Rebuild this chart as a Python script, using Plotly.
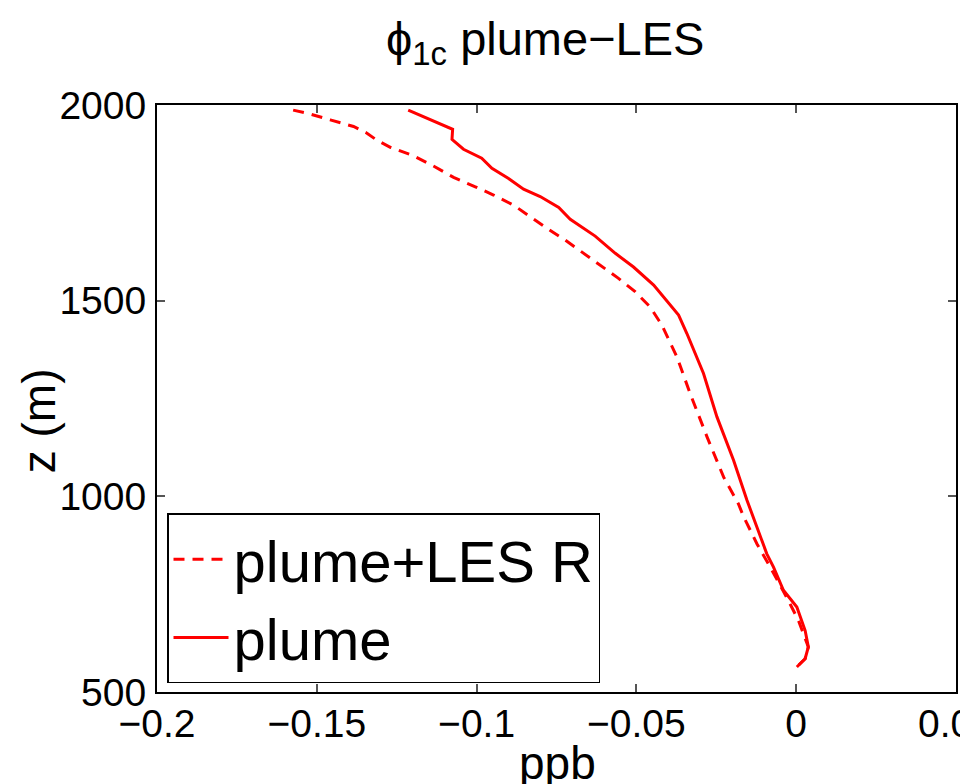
import plotly.graph_objects as go

# plume+LES R (dashed)
les_x = [-0.1574, -0.1521, -0.1458, -0.1385, -0.1343, -0.1312, -0.1270, -0.1197, -0.1135,
         -0.1072, -0.1004, -0.0947, -0.0884, -0.0832, -0.0780, -0.0723, -0.0665, -0.0613,
         -0.0556, -0.0504, -0.0457, -0.0420, -0.0389, -0.0373, -0.0332, -0.0279, -0.0227,
         -0.0181, -0.0164, -0.0123, -0.0081, -0.0047, -0.0019, 0.0007, 0.0023, 0.0038,
         0.0028, 0.0002]
les_z = [1987, 1977, 1962, 1945, 1928, 1910, 1892, 1870, 1844,
         1815, 1791, 1770, 1744, 1714, 1685, 1655, 1621, 1591,
         1557, 1523, 1484, 1437, 1382, 1356, 1263, 1152, 1049,
         981, 947, 879, 819, 768, 725, 683, 649, 615,
         585, 564]

# plume (solid)
plume_x = [-0.1214, -0.1089, -0.1075, -0.1077, -0.1041, -0.0984, -0.0952, -0.0900, -0.0853,
           -0.0801, -0.0743, -0.0707, -0.0629, -0.0566, -0.0509, -0.0446, -0.0415, -0.0368,
           -0.0342, -0.0321, -0.0290, -0.0248, -0.0196, -0.0154, -0.0092, -0.0071, -0.0040,
           0.0002, 0.0028, 0.0038, 0.0028, 0.0002]
plume_z = [1987, 1942, 1938, 1912, 1887, 1864, 1838, 1812, 1785,
           1766, 1738, 1708, 1665, 1621, 1586, 1540, 1510, 1463,
           1416, 1373, 1314, 1203, 1092, 990, 853, 819, 760,
           717, 657, 615, 585, 564]

x_ticks = [-0.2, -0.15, -0.1, -0.05, 0, 0.05]
x_ticktext = ["\u22120.2", "\u22120.15", "\u22120.1", "\u22120.05", "0", "0.05"]
y_ticks = [500, 1000, 1500, 2000]

FONT = "Liberation Sans, Arial, sans-serif"

# plot area in page pixels (page has an 8px body margin)
PX0, PX1, PY0, PY1 = 157, 956, 105, 691.5


def px(x):
    return (x - PX0) / (PX1 - PX0)


def py(y):
    return (PY1 - y) / (PY1 - PY0)


fig = go.Figure()
fig.add_trace(go.Scatter(x=les_x, y=les_z, mode="lines", name="plume+LES R",
                         line=dict(color="#ff0000", width=3, dash="11px,8px")))
fig.add_trace(go.Scatter(x=plume_x, y=plume_z, mode="lines", name="plume",
                         line=dict(color="#ff0000", width=3)))

fig.update_layout(
    width=960, height=776,
    margin=dict(l=149, r=12, t=97, b=92, autoexpand=False),
    paper_bgcolor="white", plot_bgcolor="white",
    font=dict(family=FONT, color="black"),
    showlegend=True,
    legend=dict(x=px(167), y=py(683), xanchor="left", yanchor="bottom",
                bgcolor="white", bordercolor="black", borderwidth=1.5,
                font=dict(size=58, family=FONT), tracegroupgap=0,
                itemwidth=55),
    xaxis=dict(range=[-0.2, 0.05], tickvals=x_ticks, ticktext=x_ticktext,
               showgrid=False, zeroline=False, showline=True, linecolor="black",
               linewidth=2, mirror="ticks", ticks="inside", ticklen=8,
               tickcolor="#555555", tickwidth=1.5, automargin=False,
               ticklabeloverflow="allow",
               tickfont=dict(size=39, family=FONT), ticklabelstandoff=-4),
    yaxis=dict(range=[500, 2000], tickvals=y_ticks,
               showgrid=False, zeroline=False, showline=True, linecolor="black",
               linewidth=2, mirror="ticks", ticks="inside", ticklen=8,
               tickcolor="#555555", tickwidth=1.5, automargin=False,
               tickfont=dict(size=39, family=FONT), ticklabelstandoff=1),
    annotations=[
        dict(text="\u03d5<sub>1c</sub> plume\u2212LES", xref="paper", yref="paper",
             x=px(545), y=py(42), xanchor="center", yanchor="middle",
             showarrow=False, font=dict(size=47, family=FONT)),
        dict(text="z (m)", xref="paper", yref="paper",
             x=px(39), y=py(421), xanchor="center", yanchor="middle",
             textangle=-90, showarrow=False, font=dict(size=46, family=FONT)),
        dict(text="ppb", xref="paper", yref="paper",
             x=px(557), y=py(762), xanchor="center", yanchor="middle",
             showarrow=False, font=dict(size=46, family=FONT)),
    ],
)

fig.write_html("out.html")
